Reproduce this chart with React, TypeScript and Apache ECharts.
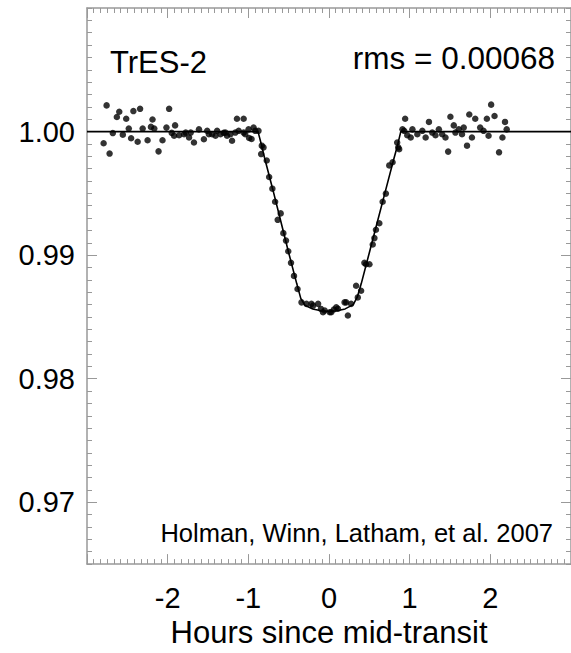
import React, { useEffect, useRef } from "react";
import * as echarts from "echarts";

// Observed light curve (hours since mid-transit, relative flux)
const obsHours = [
  -2.794, -2.757, -2.72, -2.68, -2.63, -2.6, -2.556, -2.514, -2.482, -2.453,
  -2.425, -2.372, -2.342, -2.31, -2.249, -2.207, -2.188, -2.166, -2.113, -2.064,
  -2.015, -1.982, -1.95, -1.92, -1.908, -1.858, -1.797, -1.776, -1.735, -1.714,
  -1.674, -1.612, -1.551, -1.51, -1.489, -1.449, -1.407, -1.387, -1.345, -1.305,
  -1.284, -1.264, -1.222, -1.202, -1.161, -1.141, -1.12, -1.058, -1.058, -1.038,
  -0.997, -0.99, -0.96, -0.935, -0.914, -0.874,
  -0.841, -0.833, -0.812, -0.772, -0.742, -0.702, -0.668, -0.636, -0.599, -0.566,
  -0.533, -0.505, -0.471, -0.434, -0.39, -0.341, -0.279, -0.218, -0.197, -0.135,
  -0.1, -0.074, -0.053, 0.009, 0.028, 0.06, 0.09, 0.111, 0.193, 0.213,
  0.234, 0.274, 0.336, 0.357, 0.398, 0.439, 0.459, 0.501, 0.542, 0.563,
  0.582, 0.624, 0.665, 0.705, 0.747, 0.788, 0.845, 0.858, 0.87, 0.911, 0.932,
  0.944, 0.97, 1.013, 1.034, 1.095, 1.157, 1.198, 1.239, 1.28, 1.32,
  1.362, 1.403, 1.444, 1.477, 1.505, 1.547, 1.567, 1.609, 1.649, 1.67,
  1.711, 1.739, 1.772, 1.813, 1.874, 1.916, 1.957, 1.978, 2.01, 2.052,
  2.108, 2.15, 2.182, 2.203,
];
const obsFlux = [
  0.99906, 1.00212, 0.99822, 0.99988, 1.00118, 1.0016, 0.99975, 1.00104, 1.00024, 0.99946,
  1.00166, 0.99918, 1.00184, 1.00024, 0.9993, 1.00038, 1.00098, 1.00024, 0.9984, 0.9993,
  1.00032, 1.00184, 0.9999, 0.99966, 1.0005, 0.9997, 0.99978, 0.99992, 0.99952, 0.99992,
  0.99912, 1.00018, 0.99938, 1.00006, 0.99978, 0.99978, 0.99966, 1.00006, 0.99978, 0.9999,
  0.99992, 0.99966, 0.99978, 0.99926, 0.99992, 1.00104, 1.00006, 1.00104, 0.99992, 0.99978,
  1.00018, 0.99948, 0.9994, 1.00032, 1.00006, 1.00006,
  0.99818, 0.99886, 0.99872, 0.99766, 0.99632, 0.99538, 0.99432, 0.99286, 0.99338, 0.99178,
  0.99118, 0.99032, 0.98938, 0.98832, 0.98726, 0.98618, 0.98606, 0.98606, 0.98592, 0.98606,
  0.98565, 0.98538, 0.98552, 0.98538, 0.98538, 0.9856, 0.98578, 0.98566, 0.98618, 0.98618,
  0.98512, 0.98606, 0.98752, 0.98658, 0.98712, 0.98938, 0.98926, 0.98926, 0.99086, 0.99138,
  0.99206, 0.99258, 0.99432, 0.99498, 0.99726, 0.99752, 0.99912, 0.99872, 0.99858, 1.00018, 1.00006,
  1.00104, 0.9997, 0.99952, 1.00018, 0.99978, 1.00006, 0.99952, 1.00078, 0.99992, 0.9997,
  1.00018, 0.99978, 0.99952, 0.99838, 1.0012, 1.0005, 0.99992, 1.00018, 0.99978, 1.00032,
  0.99886, 1.00138, 0.99952, 1.00104, 1.00032, 1.00006, 1.00104, 0.99966, 1.00218, 1.00126,
  0.99832, 0.99952, 1.00078, 1.00018,
];

// Model transit curve
const modelHours = [
  -3.0, -0.88, -0.84, -0.8, -0.7, -0.6, -0.5, -0.4, -0.35, -0.3, -0.2, -0.1, 0.0,
  0.1, 0.2, 0.3, 0.35, 0.4, 0.5, 0.6, 0.7, 0.8, 0.85, 0.89, 3.0,
];
const modelFlux = [
  1.0, 1.0, 0.9990, 0.9979, 0.9954, 0.9928, 0.9902, 0.9877, 0.9865, 0.98595, 0.98565, 0.9855, 0.98545,
  0.9855, 0.98565, 0.986, 0.9866, 0.9877, 0.9902, 0.9927, 0.9952, 0.9977, 0.9989, 1.0, 1.0,
];

const xTickLabels = [-2, -1, 0, 1, 2];
const yTickLabels = [0.97, 0.98, 0.99, 1.0];

const FONT = "'Liberation Sans', Arial, Helvetica, sans-serif";
const FRAME = "#999999";

export default function App() {
  const ref = useRef<HTMLDivElement>(null);

  useEffect(() => {
    if (!ref.current) return;
    const chart = echarts.init(ref.current, undefined, { renderer: "svg" });

    const obsData = obsHours.map((h, i) => [h, obsFlux[i]]);
    const modelData = modelHours.map((h, i) => [h, modelFlux[i]]);

    const xBase = (position: "top" | "bottom", showLabels: boolean) => ({
      type: "value",
      position,
      min: -3,
      max: 3,
      interval: 1,
      axisLine: { show: true, onZero: false, lineStyle: { color: FRAME, width: 1.5 } },
      axisTick: { show: true, inside: true, length: 10, lineStyle: { color: FRAME, width: 1 } },
      minorTick: { show: true, splitNumber: 12, length: 5, lineStyle: { color: FRAME, width: 1 } },
      splitLine: { show: false },
      axisLabel: {
        show: showLabels,
        showMinLabel: false,
        showMaxLabel: false,
        margin: 19,
        fontSize: 29,
        fontFamily: FONT,
        color: "#000",
        formatter: (v: number) => (xTickLabels.includes(v) ? String(v) : ""),
      },
    });

    const yMajor = (position: "left" | "right", showLabels: boolean) => ({
      type: "value",
      position,
      min: 0.965,
      max: 1.01,
      axisLine: { show: true, onZero: false, lineStyle: { color: FRAME, width: 1.5 } },
      axisTick: {
        show: true,
        inside: true,
        length: 10,
        customValues: yTickLabels,
        lineStyle: { color: FRAME, width: 1 },
      },
      splitLine: { show: false },
      axisLabel: {
        show: showLabels,
        customValues: yTickLabels,
        margin: 12,
        fontSize: 29,
        fontFamily: FONT,
        color: "#000",
        formatter: (v: number) => v.toFixed(2),
      },
    });

    const yMinor = (position: "left" | "right") => ({
      type: "value",
      position,
      min: 0.965,
      max: 1.01,
      interval: 0.001,
      axisLine: { show: false, onZero: false },
      axisTick: { show: true, inside: true, length: 5, lineStyle: { color: FRAME, width: 1 } },
      splitLine: { show: false },
      axisLabel: { show: false },
    });

    chart.setOption({
      animation: false,
      backgroundColor: "#fff",
      grid: { left: 87, top: 8, width: 486, height: 562, containLabel: false },
      xAxis: [
        {
          ...xBase("bottom", true),
          name: "Hours since mid-transit",
          nameLocation: "middle",
          nameGap: 52,
          nameTextStyle: { fontSize: 31, fontFamily: FONT, color: "#000" },
        },
        xBase("top", false),
      ],
      yAxis: [yMajor("left", true), yMinor("left"), yMajor("right", false), yMinor("right")],
      series: [
        {
          type: "line",
          data: modelData,
          xAxisIndex: 0,
          yAxisIndex: 0,
          showSymbol: false,
          symbol: "none",
          lineStyle: { color: "#000", width: 1.6 },
          z: 2,
        },
        {
          type: "scatter",
          data: obsData,
          xAxisIndex: 0,
          yAxisIndex: 0,
          symbol: "circle",
          symbolSize: 6.5,
          itemStyle: { color: "#000" },
          z: 3,
        },
      ],
      graphic: [
        {
          type: "text",
          x: 110,
          y: 62,
          style: {
            text: "TrES-2",
            fontSize: 31,
            fontFamily: FONT,
            fill: "#000",
            textAlign: "left",
            verticalAlign: "middle",
            textVerticalAlign: "middle",
          },
        },
        {
          type: "text",
          x: 555,
          y: 58,
          style: {
            text: "rms = 0.00068",
            fontSize: 31.5,
            fontFamily: FONT,
            fill: "#000",
            textAlign: "right",
            verticalAlign: "middle",
            textVerticalAlign: "middle",
          },
        },
        {
          type: "text",
          x: 553,
          y: 533,
          style: {
            text: "Holman, Winn, Latham, et al. 2007",
            fontSize: 25.5,
            fontFamily: FONT,
            fill: "#000",
            textAlign: "right",
            verticalAlign: "middle",
            textVerticalAlign: "middle",
          },
        },
      ],
    });

    return () => chart.dispose();
  }, []);

  return (
    <div
      ref={ref}
      style={{ position: "absolute", left: 0, top: 0, width: 571, height: 653 }}
    />
  );
}
